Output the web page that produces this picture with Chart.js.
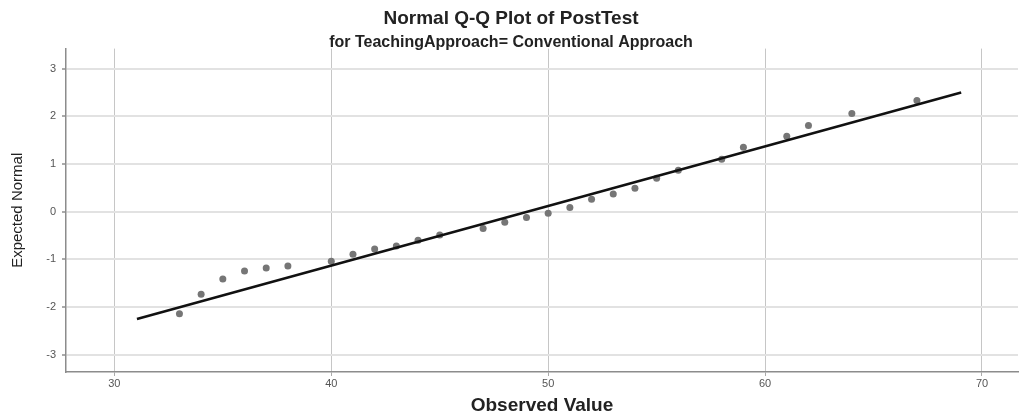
<!DOCTYPE html>
<html>
<head>
<meta charset="utf-8">
<title>Normal Q-Q Plot of PostTest</title>
<script src="https://cdn.jsdelivr.net/npm/chart.js@4.4.1/dist/chart.umd.min.js"></script>
<style>
  body { margin: 0; background: #fff; }
  canvas { display: block; }
</style>
</head>
<body>
<canvas id="qqPlot" width="1022" height="419"></canvas>
<script>
    // observed PostTest scores and their expected normal quantiles
    var observed = [33, 34, 35, 36, 37, 38, 40, 41, 42, 43, 44, 45, 47, 48,
                    49, 50, 51, 52, 53, 54, 55, 56, 58, 59, 61, 62, 64, 67];
    var expectedNormal = [-2.14, -1.73, -1.41, -1.24, -1.18, -1.14, -1.04, -0.89, -0.78, -0.72,
                          -0.60, -0.49, -0.35, -0.22, -0.12, -0.03, 0.09, 0.26, 0.37, 0.49,
                          0.70, 0.87, 1.10, 1.35, 1.58, 1.81, 2.06, 2.33];

    // reference line end points
    var refLineX = [31.04, 69.04];
    var refLineY = [-2.25, 2.50];

    var xTicks = [30, 40, 50, 60, 70];
    var yTicks = [-3, -2, -1, 0, 1, 2, 3];

    var points = observed.map(function(v, i) {
        return { x: v, y: expectedNormal[i] };
    });
    var refLine = refLineX.map(function(v, i) {
        return { x: v, y: refLineY[i] };
    });

    Chart.defaults.font.family = "'Liberation Sans', Arial, sans-serif";
    Chart.defaults.color = "#222";

    var keepTicks = function(values) {
        return function(scale) {
            scale.ticks = values.map(function(v) { return { value: v }; });
        };
    };

    var qqChart = new Chart(document.getElementById('qqPlot').getContext('2d'), {
        type: 'scatter',
        data: {
            datasets: [{
                data: refLine,
                showLine: true,
                borderColor: "#111",
                borderWidth: 2.5,
                pointRadius: 0
            }, {
                data: points,
                pointRadius: 3.5,
                pointBackgroundColor: "#767676",
                pointBorderWidth: 0
            }]
        },
        options: {
            responsive: false,
            animation: false,
            layout: { padding: 0 },
            plugins: {
                legend: { display: false },
                tooltip: { enabled: false },
                title: {
                    display: true,
                    text: "Normal Q-Q Plot of PostTest",
                    color: "#222",
                    font: { size: 19, weight: 'bold', lineHeight: 1.2 },
                    padding: { top: 7, bottom: 0 }
                },
                subtitle: {
                    display: true,
                    text: "for TeachingApproach= Conventional Approach",
                    color: "#222",
                    font: { size: 16, weight: 'bold', lineHeight: 0.8 },
                    padding: { top: 6, bottom: 0 }
                }
            },
            scales: {
                x: {
                    type: 'linear',
                    min: 27.77,
                    max: 71.66,
                    afterBuildTicks: keepTicks(xTicks),
                    afterFit: function(scale) { scale.height = 47; },
                    grid: {
                        color: "#c6c6c6",
                        lineWidth: 1,
                        tickLength: 4,
                        tickColor: "#aaa"
                    },
                    border: { color: "#8c8c8c", width: 1.5 },
                    ticks: {
                        padding: 1,
                        color: "#555",
                        font: { size: 11 }
                    },
                    title: {
                        display: true,
                        text: "Observed Value",
                        color: "#222",
                        font: { size: 19, weight: 'bold', lineHeight: 1.2 },
                        padding: { top: 0, bottom: 1.6 }
                    }
                },
                y: {
                    type: 'linear',
                    min: -3.36,
                    max: 3.42,
                    afterBuildTicks: keepTicks(yTicks),
                    afterFit: function(scale) { scale.width = 66; },
                    grid: {
                        color: "#e2e2e2",
                        lineWidth: 2,
                        tickLength: 4,
                        tickColor: "#aaa"
                    },
                    border: { color: "#8c8c8c", width: 1.5 },
                    ticks: {
                        padding: 6,
                        color: "#555",
                        font: { size: 11 }
                    },
                    title: {
                        display: true,
                        text: "Expected Normal",
                        color: "#222",
                        font: { size: 15, lineHeight: 1.2 },
                        padding: { top: 9, bottom: 0 }
                    }
                }
            }
        }
    });
</script>
</body>
</html>
